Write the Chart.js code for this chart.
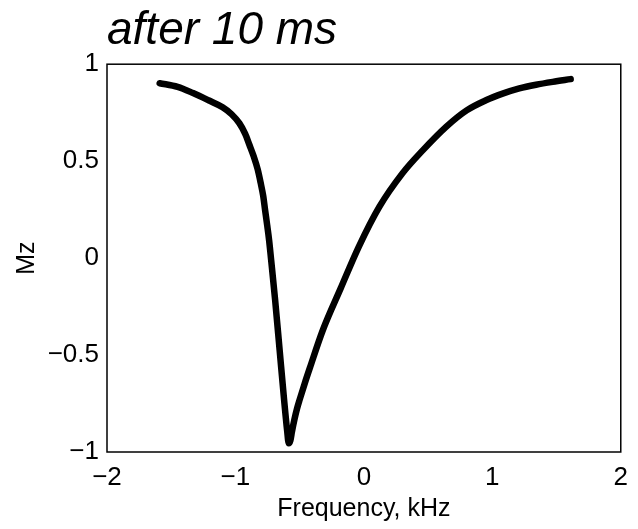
<!DOCTYPE html>
<html>
<head>
<meta charset="utf-8">
<script src="https://cdn.jsdelivr.net/npm/chart.js@4/dist/chart.umd.min.js"></script>
<style>
  html, body { margin: 0; padding: 0; background: #fff; }
  #wrap { width: 638px; height: 529px; }
</style>
</head>
<body>
<div id="wrap"><canvas id="c" width="638" height="529"></canvas></div>
<script>
// Data
const chartTitle = "after 10 ms";
const xAxisLabel = "Frequency, kHz";
const yAxisLabel = "Mz";
const xTicks = [-2, -1, 0, 1, 2];
const yTicks = [-1, -0.5, 0, 0.5, 1];
const frequencyKHz = [-1.59, -1.45, -1.33, -1.21, -1.10, -1.03, -0.97, -0.925, -0.89, -0.858, -0.827, -0.804, -0.784, -0.769, -0.753, -0.738, -0.722, -0.691, -0.656, -0.621, -0.598, -0.585, -0.572, -0.56, -0.54, -0.52, -0.50, -0.46, -0.42, -0.32, -0.18, -0.04, 0.12, 0.30, 0.46, 0.64, 0.80, 0.95, 1.08, 1.21, 1.34, 1.47, 1.61];
const mz = [0.902, 0.883, 0.851, 0.814, 0.778, 0.742, 0.696, 0.642, 0.582, 0.525, 0.458, 0.389, 0.321, 0.247, 0.170, 0.093, -0.010, -0.216, -0.474, -0.732, -0.887, -0.955, -0.94, -0.895, -0.83, -0.775, -0.73, -0.645, -0.565, -0.372, -0.155, 0.058, 0.264, 0.437, 0.557, 0.677, 0.762, 0.814, 0.848, 0.875, 0.894, 0.909, 0.923];

const points = frequencyKHz.map((f, i) => ({ x: f, y: mz[i] }));
const fmt = v => String(v).replace('-', '\u2212');

const frame = {
  id: 'frame',
  afterDraw(chart) {
    const a = chart.chartArea, ctx = chart.ctx;
    ctx.save();
    ctx.strokeStyle = '#000';
    ctx.lineWidth = 1.5;
    ctx.strokeRect(a.left, a.top, a.right - a.left, a.bottom - a.top);
    ctx.restore();
  }
};

new Chart(document.getElementById('c'), {
  type: 'line',
  data: {
    datasets: [{
      data: points,
      borderColor: '#000',
      borderWidth: 6.5,
      borderCapStyle: 'round',
      borderJoinStyle: 'round',
      pointRadius: 0,
      cubicInterpolationMode: 'monotone',
      fill: false
    }]
  },
  options: {
    responsive: false,
    animation: false,
    devicePixelRatio: 1,
    layout: { padding: { left: 0, right: 16, top: 0, bottom: 0 } },
    plugins: {
      legend: { display: false },
      tooltip: { enabled: false },
      title: {
        display: true,
        text: chartTitle,
        align: 'start',
        fullSize: false,
        color: '#000',
        font: { family: 'Liberation Sans', size: 46, style: 'italic', weight: 'normal', lineHeight: 1.2 },
        padding: { top: 4, bottom: 5 }
      }
    },
    scales: {
      x: {
        type: 'linear',
        min: -2, max: 2,
        afterFit(s) { s.height = 77; },
        afterBuildTicks(s) { s.ticks = xTicks.map(v => ({ value: v })); },
        grid: { display: false, drawTicks: false },
        border: { display: false },
        ticks: {
          color: '#000', padding: 10,
          font: { family: 'Liberation Sans', size: 26 },
          callback: v => fmt(v)
        },
        title: {
          display: true, text: xAxisLabel, color: '#000',
          font: { family: 'Liberation Sans', size: 25, lineHeight: 1.2 },
          padding: { top: 0, bottom: 5 }
        }
      },
      y: {
        type: 'linear',
        min: -1, max: 1,
        afterFit(s) { s.width = 107; },
        afterBuildTicks(s) { s.ticks = yTicks.map(v => ({ value: v })); },
        grid: { display: false, drawTicks: false },
        border: { display: false },
        ticks: {
          color: '#000', padding: 8,
          font: { family: 'Liberation Sans', size: 26 },
          callback: v => fmt(v)
        },
        title: {
          display: true, text: yAxisLabel, color: '#000',
          font: { family: 'Liberation Sans', size: 25, lineHeight: 1.2 },
          padding: { top: 12, bottom: 0 }
        }
      }
    }
  },
  plugins: [frame]
});
</script>
</body>
</html>
